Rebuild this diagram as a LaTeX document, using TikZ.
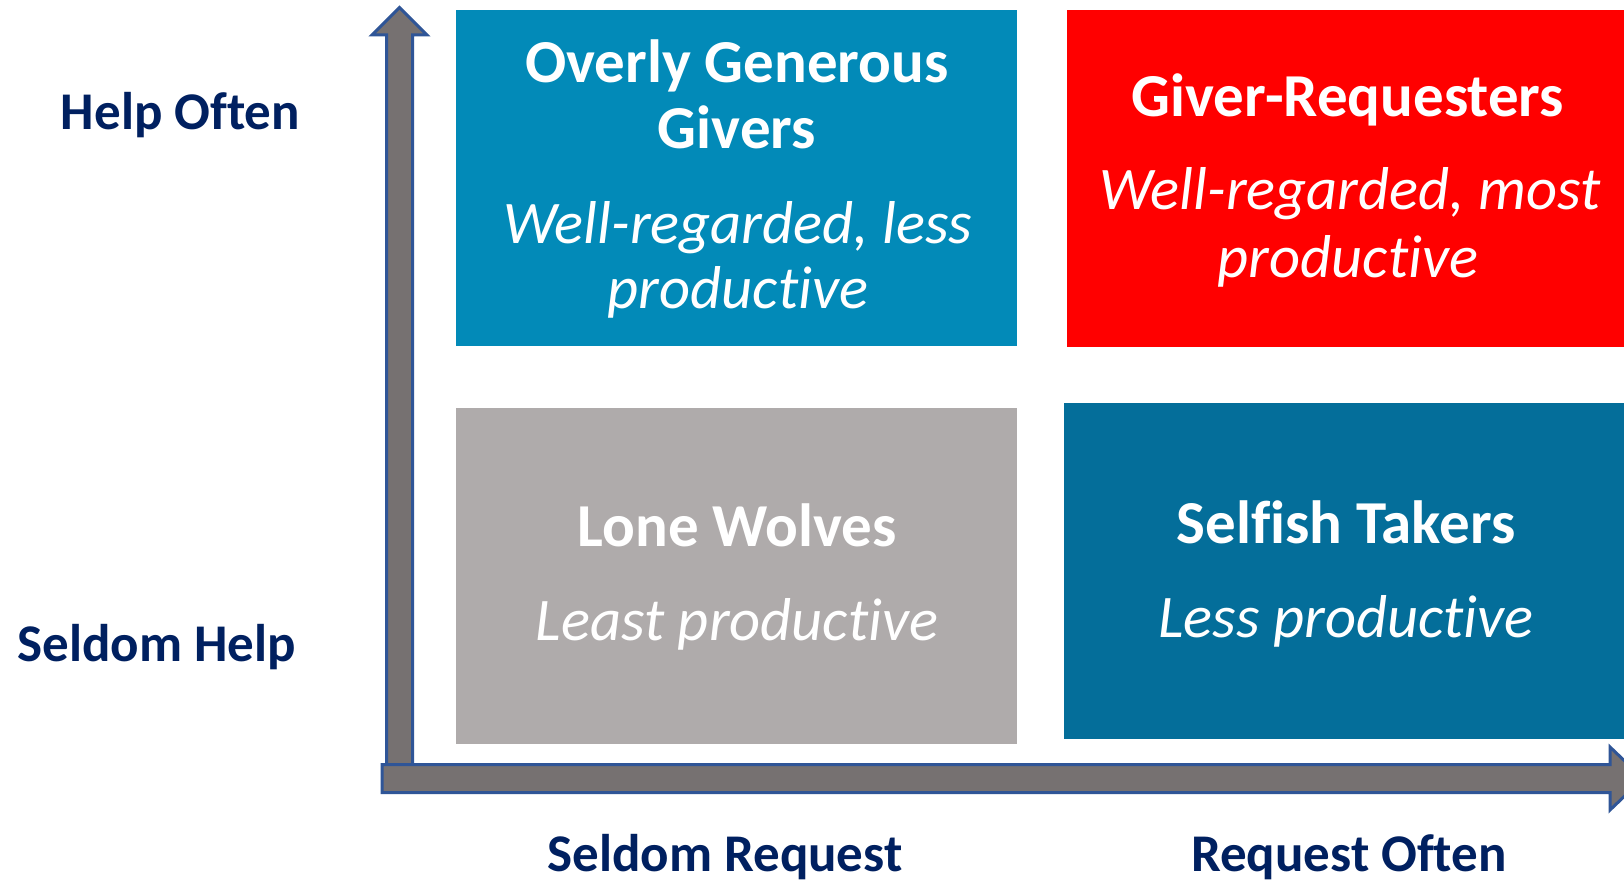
\documentclass[tikz,border=0pt]{standalone}
\usepackage{fontspec}
\setmainfont{Carlito}[Ligatures=CommonOff]
\definecolor{givblue}{HTML}{028AB8}
\definecolor{takblue}{HTML}{046E9A}
\definecolor{reqred}{HTML}{FF0000}
\definecolor{wolfgray}{HTML}{AFABAB}
\definecolor{axisfill}{HTML}{767171}
\definecolor{axisedge}{HTML}{2F5597}
\definecolor{navy}{HTML}{002060}
\tikzset{
  quad/.style={rectangle, draw=none, inner sep=0pt, outer sep=0pt, anchor=north west},
  title/.style={anchor=base, inner sep=0pt, text=white, font=\fontsize{61}{72}\selectfont\bfseries},
  note/.style={anchor=base, inner sep=0pt, text=white, font=\fontsize{60.5}{70}\selectfont\itshape},
  axislabel/.style={anchor=base, inner sep=0pt, text=navy, font=\fontsize{53}{63}\selectfont\bfseries},
  axisarrow/.style={fill=axisfill, draw=axisedge, line width=3pt, line join=miter}
}
\begin{document}
\begin{tikzpicture}[x=1pt,y=-1pt]
\useasboundingbox (0,0) rectangle (1624,883);
\clip (0,0) rectangle (1624,883);
\fill[white] (0,0) rectangle (1624,883);

% quadrant boxes
\node[quad, fill=givblue, minimum width=561, minimum height=336] (ogg) at (456,10) {};
\node[quad, fill=reqred, minimum width=600, minimum height=337] (gr) at (1067,10) {};
\node[quad, fill=wolfgray, minimum width=561, minimum height=336] (lw) at (456,408) {};
\node[quad, fill=takblue, minimum width=600, minimum height=336] (st) at (1064,403) {};

% vertical axis (help)
\draw[axisarrow] (386.5,790) -- (386.5,35) -- (372,35) -- (399.5,7.5) -- (427,35)
  -- (412.5,35) -- (412.5,790) -- cycle;
% horizontal axis (request)
\draw[axisarrow] (382,764.5) -- (1610,764.5) -- (1610,747) -- (1643,778.5)
  -- (1610,810) -- (1610,792.5) -- (382,792.5) -- cycle;

% quadrant texts
\node[title] (ogg1) at (737,82) {Overly Generous};
\node[title] (ogg2) at (737,148) {Givers};
\node[note] (ogg3) at (738,243) {Well-regarded, less};
\node[note] (ogg4) at (738,308) {productive};

\node[title] (gr1) at (1348,116) {Giver-Requesters};
\node[note] (gr2) at (1350,209) {Well-regarded, most};
\node[note] (gr3) at (1348,277) {productive};

\node[title] (lw1) at (737,546) {Lone Wolves};
\node[note] (lw2) at (737,640) {Least productive};

\node[title] (st1) at (1346,543) {Selfish Takers};
\node[note] (st2) at (1346,637) {Less productive};

% axis labels
\node[axislabel] (hoften) at (180.5,129) {Help Often};
\node[axislabel] (shelp) at (156.5,661) {Seldom Help};
\node[axislabel] (sreq) at (725,871) {Seldom Request};
\node[axislabel] (roften) at (1349,871) {Request Often};
\end{tikzpicture}
\end{document}
